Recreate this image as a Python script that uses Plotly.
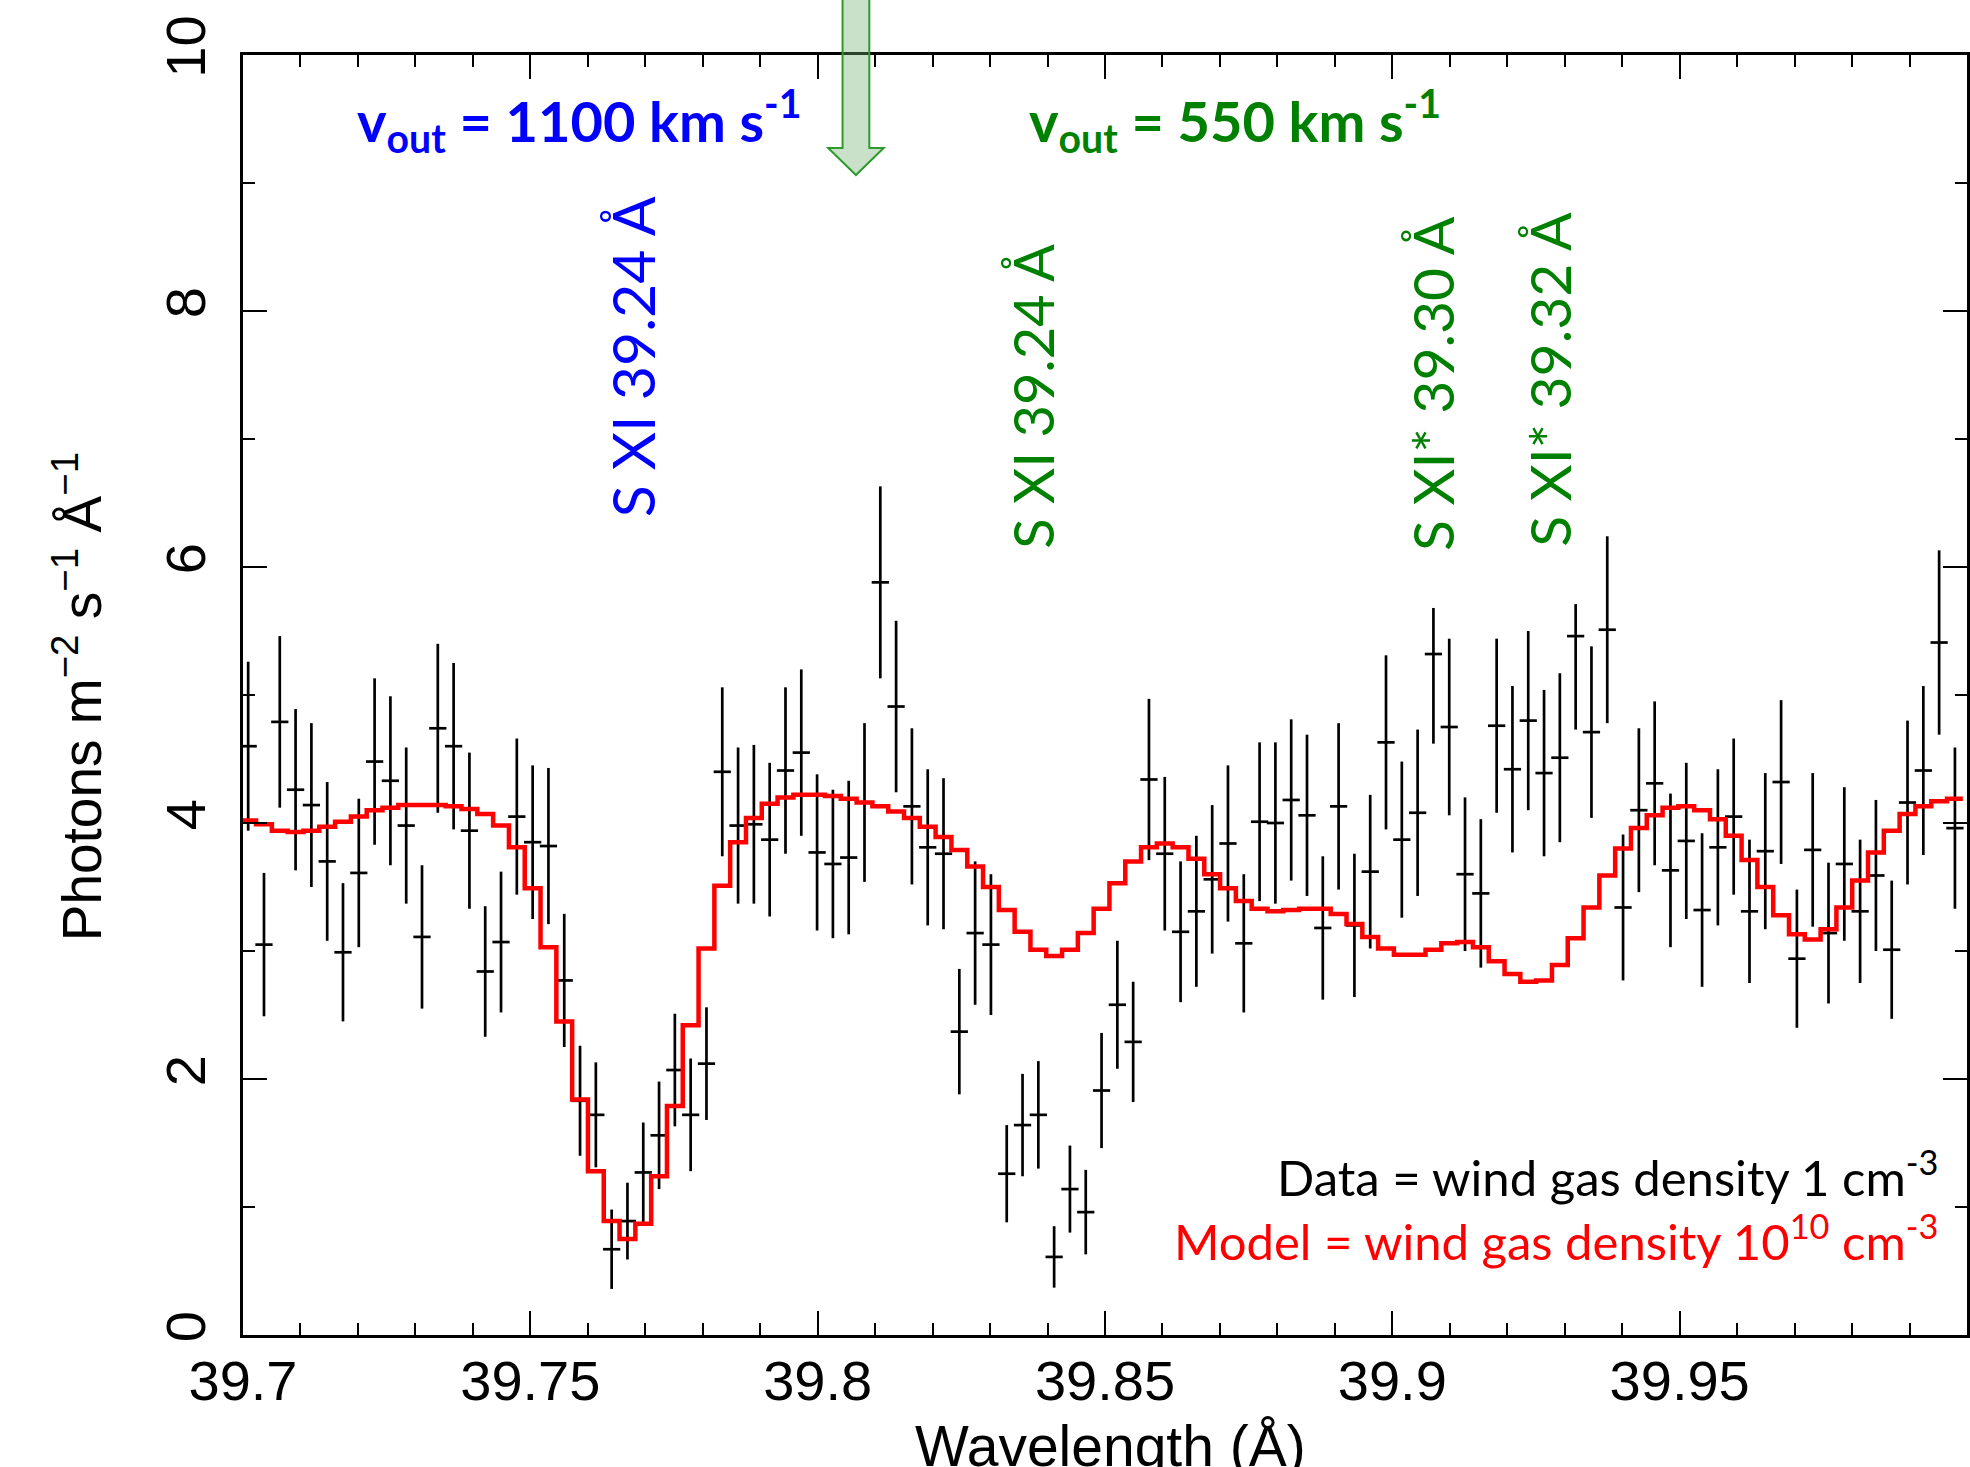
import plotly.graph_objects as go

# ---------------- data ----------------
wavelength = [
    39.70090, 39.70365, 39.70640, 39.70915, 39.71190, 39.71465, 39.71740, 39.72015, 39.72290, 39.72565,
    39.72840, 39.73115, 39.73390, 39.73665, 39.73940, 39.74215, 39.74490, 39.74765, 39.75040, 39.75315,
    39.75590, 39.75865, 39.76140, 39.76415, 39.76690, 39.76965, 39.77240, 39.77515, 39.77790, 39.78065,
    39.78340, 39.78615, 39.78890, 39.79165, 39.79440, 39.79715, 39.79990, 39.80265, 39.80540, 39.80815,
    39.81090, 39.81365, 39.81640, 39.81915, 39.82190, 39.82465, 39.82740, 39.83015, 39.83290, 39.83565,
    39.83840, 39.84115, 39.84390, 39.84665, 39.84940, 39.85215, 39.85490, 39.85765, 39.86040, 39.86315,
    39.86590, 39.86865, 39.87140, 39.87415, 39.87690, 39.87965, 39.88240, 39.88515, 39.88790, 39.89065,
    39.89340, 39.89615, 39.89890, 39.90165, 39.90440, 39.90715, 39.90990, 39.91265, 39.91540, 39.91815,
    39.92090, 39.92365, 39.92640, 39.92915, 39.93190, 39.93465, 39.93740, 39.94015, 39.94290, 39.94565,
    39.94840, 39.95115, 39.95390, 39.95665, 39.95940, 39.96215, 39.96490, 39.96765, 39.97040, 39.97315,
    39.97590, 39.97865, 39.98140, 39.98415, 39.98690, 39.98965, 39.99240, 39.99515, 39.99790,
]

flux = [
    4.60, 3.05, 4.79, 4.26, 4.14, 3.70, 2.99, 3.61, 4.48, 4.33,
    3.98, 3.11, 4.74, 4.60, 3.94, 2.84, 3.07, 4.05, 3.85, 3.82,
    2.77, 1.83, 1.72, 0.67, 0.89, 1.27, 1.56, 2.07, 1.72, 2.12,
    4.40, 3.98, 3.99, 3.87, 4.41, 4.55, 3.77, 3.68, 3.73, 4.16,
    5.88, 4.91, 4.13, 3.81, 3.76, 2.37, 3.14, 3.05, 1.26, 1.64,
    1.72, 0.61, 1.14, 0.96, 1.91, 2.58, 2.29, 4.34, 3.76, 3.15,
    3.31, 3.56, 3.84, 3.06, 4.01, 4.00, 4.18, 4.06, 3.18, 4.13,
    3.20, 3.62, 4.63, 3.87, 4.08, 5.32, 4.75, 3.60, 3.45, 4.76,
    4.42, 4.80, 4.39, 4.51, 5.46, 4.71, 5.51, 3.34, 4.10, 4.31,
    3.63, 3.86, 3.32, 3.81, 4.05, 3.31, 3.78, 4.32, 2.94, 3.79,
    3.14, 3.68, 3.31, 3.59, 3.01, 4.16, 4.41, 5.41, 3.96,
]

err_plus = [
    0.66, 0.56, 0.67, 0.63, 0.64, 0.62, 0.54, 0.58, 0.65, 0.66,
    0.61, 0.56, 0.66, 0.65, 0.61, 0.51, 0.55, 0.61, 0.60, 0.61,
    0.52, 0.43, 0.41, 0.31, 0.30, 0.39, 0.42, 0.44, 0.44, 0.44,
    0.66, 0.61, 0.62, 0.60, 0.65, 0.65, 0.61, 0.58, 0.60, 0.62,
    0.75, 0.67, 0.61, 0.61, 0.59, 0.49, 0.56, 0.55, 0.38, 0.40,
    0.42, 0.24, 0.34, 0.33, 0.45, 0.50, 0.47, 0.63, 0.60, 0.55,
    0.59, 0.58, 0.61, 0.54, 0.62, 0.63, 0.63, 0.63, 0.56, 0.65,
    0.56, 0.60, 0.68, 0.61, 0.65, 0.36, 0.69, 0.60, 0.58, 0.68,
    0.65, 0.70, 0.65, 0.66, 0.25, 0.67, 0.73, 0.57, 0.64, 0.64,
    0.60, 0.61, 0.60, 0.61, 0.61, 0.56, 0.61, 0.64, 0.54, 0.60,
    0.55, 0.60, 0.56, 0.59, 0.54, 0.64, 0.66, 0.72, 0.63,
]

err_minus = [
    0.66, 0.56, 0.67, 0.63, 0.64, 0.62, 0.54, 0.58, 0.65, 0.66,
    0.61, 0.56, 0.66, 0.65, 0.61, 0.51, 0.55, 0.61, 0.60, 0.61,
    0.52, 0.43, 0.41, 0.31, 0.30, 0.39, 0.42, 0.44, 0.44, 0.44,
    0.66, 0.61, 0.62, 0.60, 0.65, 0.65, 0.61, 0.58, 0.60, 0.62,
    0.75, 0.67, 0.61, 0.61, 0.59, 0.49, 0.56, 0.55, 0.38, 0.40,
    0.42, 0.24, 0.34, 0.33, 0.45, 0.50, 0.47, 0.63, 0.60, 0.55,
    0.59, 0.58, 0.61, 0.54, 0.62, 0.63, 0.63, 0.63, 0.56, 0.65,
    0.56, 0.60, 0.68, 0.61, 0.65, 0.70, 0.69, 0.60, 0.58, 0.68,
    0.65, 0.70, 0.65, 0.66, 0.73, 0.67, 0.73, 0.57, 0.64, 0.64,
    0.60, 0.61, 0.60, 0.61, 0.61, 0.56, 0.61, 0.64, 0.54, 0.60,
    0.55, 0.60, 0.56, 0.59, 0.54, 0.64, 0.66, 0.72, 0.63,
]

model = [
    4.02, 3.99, 3.94, 3.93, 3.94, 3.97, 4.01, 4.05, 4.10, 4.12,
    4.14, 4.14, 4.14, 4.13, 4.11, 4.07, 3.98, 3.81, 3.49, 3.03,
    2.45, 1.84, 1.28, 0.89, 0.75, 0.87, 1.24, 1.79, 2.42, 3.02,
    3.51, 3.85, 4.04, 4.15, 4.20, 4.22, 4.22, 4.21, 4.19, 4.16,
    4.13, 4.09, 4.04, 3.97, 3.89, 3.79, 3.66, 3.50, 3.32, 3.15,
    3.01, 2.96, 3.01, 3.14, 3.33, 3.53, 3.70, 3.81, 3.84, 3.81,
    3.72, 3.60, 3.49, 3.39, 3.33, 3.31, 3.32, 3.33, 3.33, 3.29,
    3.21, 3.11, 3.02, 2.97, 2.97, 3.01, 3.06, 3.07, 3.03, 2.92,
    2.82, 2.76, 2.77, 2.89, 3.10, 3.34, 3.59, 3.80, 3.96, 4.06,
    4.12, 4.13, 4.10, 4.03, 3.90, 3.71, 3.50, 3.28, 3.13, 3.09,
    3.17, 3.34, 3.55, 3.77, 3.94, 4.07, 4.13, 4.17, 4.19,
]

x_tickvals = [39.7, 39.75, 39.8, 39.85, 39.9, 39.95]
x_ticktext = ["39.7", "39.75", "39.8", "39.85", "39.9", "39.95"]
y_tickvals = [0, 2, 4, 6, 8, 10]
y_ticktext = ["0", "2", "4", "6", "8", "10"]

# ---------------- layout geometry ----------------
W, H = 1970, 1467
ML, MR, MT, MB = 243, 0, 55, 132
PW = W - ML - MR
PH = H - MT - MB


def px(x):
    return (x - ML) / PW


def py(y):
    return (H - MB - y) / PH


BLUE = "#0000FF"
GREEN = "#008000"
RED = "#FF0000"
ANN_FONT = "Lato"
AX_FONT = "Liberation Sans"
XERR_HALF = 0.0015

# step-histogram edges of the model, derived from the bin centres
half_bin = (wavelength[1] - wavelength[0]) / 2
model_x = [w - half_bin for w in wavelength] + [wavelength[-1] + half_bin]
model_y = model + [model[-1]]

fig = go.Figure()

fig.add_trace(go.Scatter(
    x=wavelength, y=flux, mode="markers",
    marker=dict(size=1, color="black"),
    error_y=dict(type="data", symmetric=False, array=err_plus, arrayminus=err_minus,
                 color="black", thickness=2.7, width=0),
    error_x=dict(type="constant", value=XERR_HALF, color="black", thickness=2.7, width=0),
    showlegend=False, hoverinfo="skip",
))

fig.add_trace(go.Scatter(
    x=model_x, y=model_y, mode="lines", line=dict(color=RED, width=4.5, shape="hv"),
    showlegend=False, hoverinfo="skip",
))

axis_common = dict(
    showline=True, linecolor="black", linewidth=2.5, mirror="ticks",
    ticks="inside", ticklen=24, tickwidth=2.2, tickcolor="black",
    showgrid=False, zeroline=False,
    tickfont=dict(family=AX_FONT, size=56, color="black"),
)

fig.update_layout(
    width=W, height=H,
    margin=dict(l=ML, r=MR, t=MT, b=MB, pad=0),
    paper_bgcolor="white", plot_bgcolor="white",
    xaxis=dict(range=[39.7, 40.0], tickvals=x_tickvals, ticktext=x_ticktext,
               ticklabelstandoff=-5,
               minor=dict(dtick=0.01, tick0=39.7, ticks="inside", ticklen=12,
                          tickwidth=2.2, tickcolor="black"),
               **axis_common),
    yaxis=dict(range=[0, 10], tickvals=y_tickvals, ticktext=y_ticktext, tickangle=-90,
               ticklabelstandoff=13,
               minor=dict(dtick=1, tick0=0, ticks="inside", ticklen=12,
                          tickwidth=2.2, tickcolor="black"),
               **axis_common),
)

annotations = [
    # axis titles
    dict(text="Wavelength (Å)", x=px(1112), y=py(1412), xanchor="center", yanchor="top",
         font=dict(family=AX_FONT, size=57, color="black")),
    dict(text="Photons m<sup>−2</sup> s<sup>−1</sup> Å<sup>−1</sup>", x=px(78), y=py(697),
         xanchor="center", yanchor="middle", textangle=-90,
         font=dict(family=AX_FONT, size=55, color="black")),
    # velocities
    dict(text="<b>v<sub>out</sub> = 1100 km s<sup>-1</sup></b>", x=px(580), y=py(120),
         xanchor="center", yanchor="middle", font=dict(family=ANN_FONT, size=56, color=BLUE)),
    dict(text="<b>v<sub>out</sub> = 550 km s<sup>-1</sup></b>", x=px(1237), y=py(120),
         xanchor="center", yanchor="middle", font=dict(family=ANN_FONT, size=56, color=GREEN)),
    # line identifications
    dict(text="S XI 39.24 Å", x=px(633), y=py(357), xanchor="center", yanchor="middle",
         textangle=-90, font=dict(family=ANN_FONT, size=59, color=BLUE)),
    dict(text="S XI 39.24 Å", x=px(1034), y=py(396), xanchor="center", yanchor="middle",
         textangle=-90, font=dict(family=ANN_FONT, size=56, color=GREEN)),
    dict(text="S XI* 39.30 Å", x=px(1434), y=py(383), xanchor="center", yanchor="middle",
         textangle=-90, font=dict(family=ANN_FONT, size=57, color=GREEN)),
    dict(text="S XI* 39.32 Å", x=px(1551), y=py(379), xanchor="center", yanchor="middle",
         textangle=-90, font=dict(family=ANN_FONT, size=57, color=GREEN)),
    # density notes
    dict(text="Data = wind gas density 1 cm<sup>-3</sup>", x=px(1943), y=py(1173),
         xanchor="right", yanchor="middle", font=dict(family=ANN_FONT, size=49, color="black")),
    dict(text="Model = wind gas density 10<sup>10</sup> cm<sup>-3</sup>", x=px(1943), y=py(1237),
         xanchor="right", yanchor="middle", font=dict(family=ANN_FONT, size=49, color=RED)),
]
for a in annotations:
    a.update(xref="paper", yref="paper", showarrow=False)
fig.update_layout(annotations=annotations)

# green arrow marking the 550 km/s position
cx, sw, hw, y0, yb, yt = 857, 13.4, 27.8, -5, 148, 175
path = (f"M {px(cx - sw)} {py(y0)} L {px(cx - sw)} {py(yb)} L {px(cx - hw)} {py(yb)} "
        f"L {px(cx)} {py(yt)} L {px(cx + hw)} {py(yb)} L {px(cx + sw)} {py(yb)} "
        f"L {px(cx + sw)} {py(y0)} Z")
fig.add_shape(type="path", path=path, xref="paper", yref="paper",
              fillcolor="rgba(110,175,110,0.38)", line=dict(color="#2E9A2E", width=2))

fig.write_html("out.html")
